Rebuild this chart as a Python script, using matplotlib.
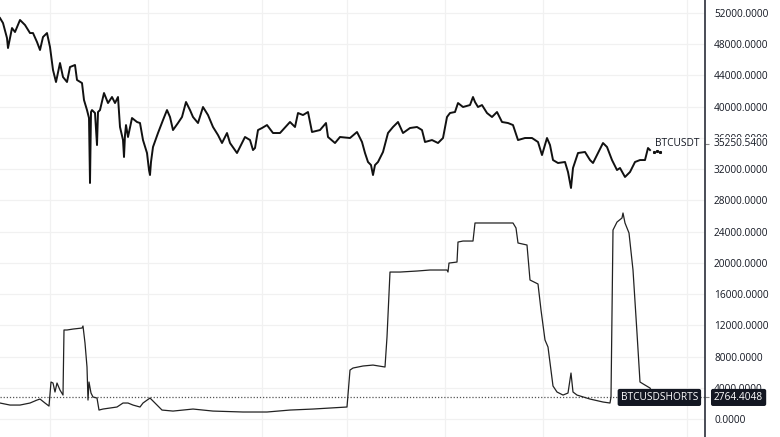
import matplotlib
matplotlib.use("Agg")
import matplotlib.pyplot as plt
from matplotlib.ticker import FixedLocator

plt.rcParams['font.family'] = ['Open Sans', 'DejaVu Sans']

# ---- data (time in bar units, values in USD) ----
price_t = [0, 3, 7, 8, 12, 15, 20, 25, 30, 33, 37, 40, 43, 47, 50, 53, 56, 60, 63, 67, 70, 75, 77, 82,
           84, 87, 89, 90, 91, 92, 95, 97, 98, 100, 104, 108, 112, 115, 118, 120, 123, 124, 125, 126,
           128, 132, 137, 140, 143, 147, 149, 150, 151, 153, 158, 163, 167, 170, 173, 178, 182, 186,
           190, 193, 198, 203, 208, 213, 218, 222, 227, 230, 237, 242, 245, 250, 253, 255, 258, 262,
           267, 273, 280, 290, 295, 298, 303, 308, 312, 320, 326, 328, 335, 340, 350, 357, 362, 365,
           368, 371, 373, 375, 378, 383, 388, 393, 398, 403, 410, 417, 422, 425, 432, 438, 443, 447,
           450, 455, 458, 463, 470, 473, 475, 478, 482, 487, 492, 497, 502, 508, 513, 518, 525, 532,
           538, 542, 547, 550, 553, 558, 565, 568, 571, 573, 578, 585, 590, 593, 598, 603, 607, 612,
           617, 620, 625, 630, 635, 640, 645, 648, 650]
price = [51340, 50700, 48780, 47500, 50060, 49550, 51090, 50450, 49420, 49420, 48270, 47250, 48910,
         49420, 47630, 44690, 43150, 45580, 43790, 43150, 45070, 45330, 43410, 43020, 40840, 39560,
         38540, 30220, 39310, 39560, 39180, 35080, 39310, 39560, 41740, 40460, 41230, 40460, 41230,
         37390, 35720, 33550, 36360, 37640, 36110, 38540, 38030, 37900, 35720, 34060, 31880, 31240,
         32910, 34830, 36620, 38280, 39560, 38670, 37000, 37900, 38670, 40590, 39560, 38670, 37900,
         39950, 38920, 37390, 36360, 35340, 36620, 35340, 34060, 35340, 36110, 35720, 34440, 34700,
         37000, 37260, 37640, 36620, 36620, 38030, 37390, 39180, 38920, 39310, 36750, 37000, 37900,
         36110, 35340, 36110, 35980, 36750, 35470, 34060, 32910, 32520, 31240, 32520, 32910, 34190,
         36620, 37390, 38030, 36620, 37260, 37390, 37000, 35470, 35720, 35340, 35980, 38670, 39180,
         39310, 40460, 39950, 40200, 41230, 40590, 39950, 40200, 39180, 38670, 39310, 38030, 37900,
         37640, 35720, 35980, 35980, 35470, 33800, 35980, 35080, 33160, 32780, 32910, 31630, 29580,
         32140, 34060, 34190, 33160, 32780, 34060, 35340, 34830, 33160, 31880, 32140, 30990, 31630,
         32910, 33160, 33160, 34700, 34440]
tail_t = [654, 657, 660]
tail = [34200, 34300, 34200]
price_last = 35250.54

shorts_t = [0, 10, 20, 30, 37, 40, 45, 49, 51, 53, 55, 57, 60, 63, 64, 67, 73, 82, 83, 85, 87, 88, 89,
            91, 93, 97, 99, 103, 110, 117, 123, 128, 133, 140, 143, 150, 155, 162, 173, 193, 213, 243,
            267, 290, 313, 330, 347, 350, 353, 363, 373, 385, 387, 390, 400, 417, 430, 447, 448, 449,
            457, 458, 463, 473, 475, 490, 513, 516, 518, 527, 530, 538, 541, 545, 548, 553, 557, 563,
            568, 571, 573, 577, 590, 603, 610, 611, 613, 617, 622, 623, 625, 629, 633, 637, 640, 645,
            650, 655]
shorts = [2050, 1790, 1790, 2050, 2430, 2560, 2050, 1660, 4740, 4610, 3460, 4610, 3710, 3070, 11400,
          11400, 11520, 11650, 11910, 9730, 6660, 2430, 4740, 3330, 2820, 2690, 1150, 1280, 1410, 1540,
          2050, 2050, 1790, 1540, 2050, 2690, 2050, 1150, 1020, 1280, 1020, 900, 900, 1150, 1280, 1410,
          1540, 6270, 6530, 6790, 6910, 6660, 10500, 18820, 18820, 18950, 19080, 19080, 18820, 19970,
          20100, 22660, 22790, 22790, 25100, 25100, 25100, 24460, 22540, 22280, 17800, 17290, 13960,
          10120, 9220, 4230, 3460, 3070, 3330, 5890, 3460, 3070, 2560, 2180, 2050, 2820, 24200, 25220,
          25740, 26380, 25100, 23820, 19080, 11010, 4740, 4350, 3970, 2764.4048]
shorts_last = 2764.4048

y_ticks = list(range(0, 56000, 4000))
grid_t = [50, 148, 262, 347, 445, 543, 687]

# ---- figure ----
fig = plt.figure(figsize=(7.8, 4.37), dpi=100)
ax = fig.add_axes([0, 0, 705 / 780, 1])
ax.set_xlim(0, 705)
ax.set_ylim(-2300, 53650)

grid_c = '#f1f1f1'
for v in y_ticks:
    ax.axhline(v, color=grid_c, lw=0.9, zorder=0)
for t in grid_t:
    ax.axvline(t, color=grid_c, lw=0.9, zorder=0)

ax.axhline(shorts_last, color='#555555', lw=0.9, ls=(0, (1, 1.5)), zorder=1)

ax.plot(price_t, price, color='#111111', lw=1.4, zorder=3)
ax.plot(tail_t, tail, ls='none', marker='s', ms=1.2, color='#111111', zorder=3)
ax.plot(shorts_t, shorts, color='#222222', lw=0.9, zorder=3)

for s in ['left', 'top', 'bottom']:
    ax.spines[s].set_visible(False)
ax.spines['right'].set_color('#2a2e39')
ax.spines['right'].set_linewidth(1.2)

ax.set_xticks([])
ax.yaxis.tick_right()
labels = [f"{v:.4f}" for v in y_ticks]
ax.set_yticks(y_ticks)
ax.set_yticklabels(labels)
ax.tick_params(axis='y', length=0, pad=6.5, labelsize=7.3, labelcolor='#131722')
ax.yaxis.set_minor_locator(FixedLocator([shorts_last, price_last]))
ax.tick_params(axis='y', which='minor', length=3, width=0.8, color='#888888', direction='out')

# last value labels
ax.annotate(f"{price_last:.4f}", xy=(1, price_last), xycoords=('axes fraction', 'data'),
            xytext=(6.5, 0), textcoords='offset points', ha='left', va='center',
            fontsize=7.3, color='#131722',
            bbox=dict(boxstyle='square,pad=0.15', fc='white', ec='none'), annotation_clip=False, zorder=5)
ax.text(655, price_last, "BTCUSDT", ha='left', va='center', fontsize=7.3, color='#131722', zorder=5)

ax.annotate(f"{shorts_last:.4f}", xy=(1, shorts_last), xycoords=('axes fraction', 'data'),
            xytext=(6.5, 0), textcoords='offset points', ha='left', va='center',
            fontsize=7.3, color='white',
            bbox=dict(boxstyle='round,pad=0.3,rounding_size=0.2', fc='#131722', ec='none'),
            annotation_clip=False, zorder=5)
ax.annotate("BTCUSDSHORTS", xy=(1, shorts_last), xycoords=('axes fraction', 'data'),
            xytext=(-5, 0), textcoords='offset points', ha='right', va='center',
            fontsize=7.3, color='white',
            bbox=dict(boxstyle='round,pad=0.3,rounding_size=0.2', fc='#131722', ec='none'),
            annotation_clip=False, zorder=5)

fig.savefig('out.png', dpi=100)
